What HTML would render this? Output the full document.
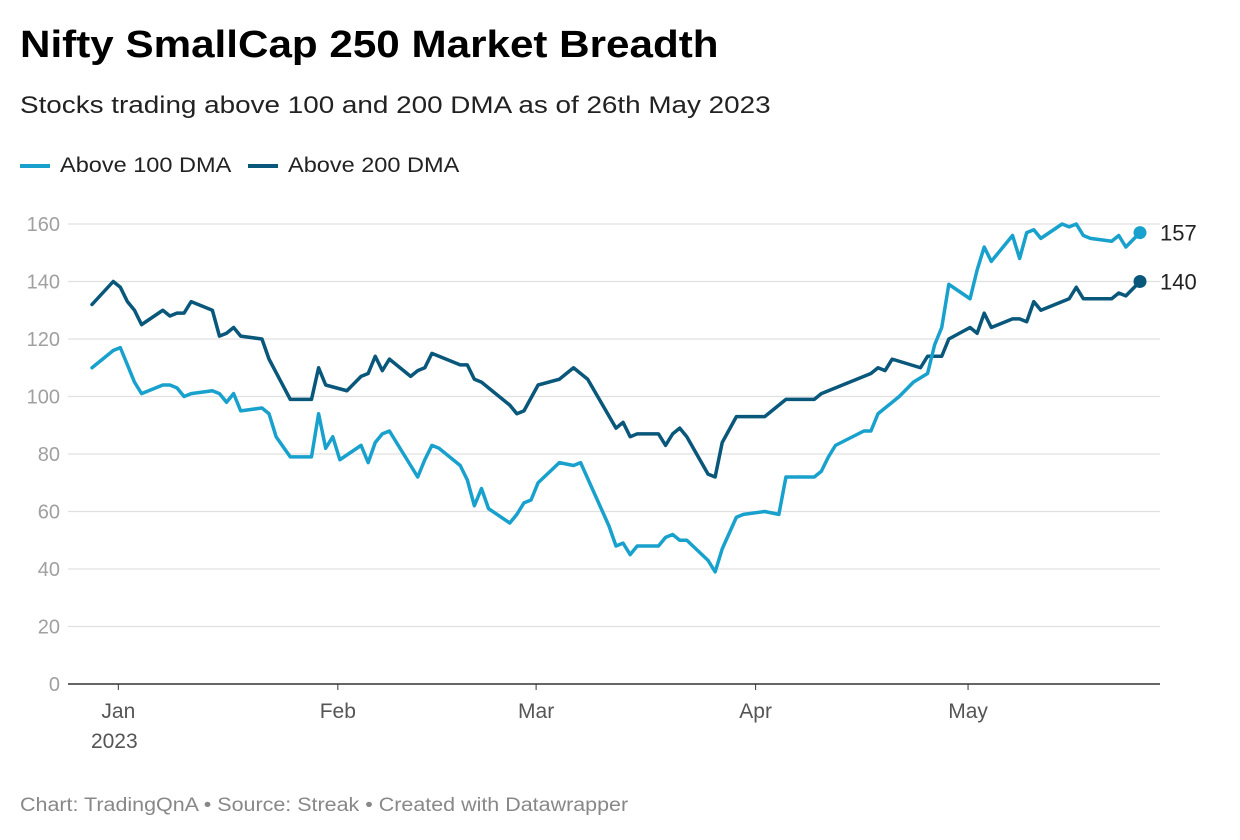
<!DOCTYPE html>
<html><head><meta charset="utf-8"><style>
body{margin:0;background:#fff;font-family:"Liberation Sans",sans-serif;width:1240px;height:840px;overflow:hidden;position:relative}
.t{position:absolute;white-space:nowrap;transform-origin:0 0}
</style></head><body>
<div class="t" style="left:20px;top:24px;font-size:38px;font-weight:bold;color:#000;transform:scaleX(1.11)">Nifty SmallCap 250 Market Breadth</div>
<div class="t" style="left:20px;top:92px;font-size:24px;color:#222;transform:scaleX(1.16)">Stocks trading above 100 and 200 DMA as of 26th May 2023</div>
<div class="t" style="left:20px;top:154px;font-size:21px;color:#222"><span style="display:inline-block;width:30px;height:4px;background:#18a1cd;vertical-align:middle;margin-right:10px"></span><span style="display:inline-block;transform:scaleX(1.12);transform-origin:0 0">Above 100 DMA</span></div>
<div class="t" style="left:248px;top:154px;font-size:21px;color:#222"><span style="display:inline-block;width:30px;height:4px;background:#09577a;vertical-align:middle;margin-right:10px"></span><span style="display:inline-block;transform:scaleX(1.12);transform-origin:0 0">Above 200 DMA</span></div>
<svg id="chart" width="1240" height="840" style="position:absolute;left:0;top:0"></svg>
<div class="t" style="left:20px;top:795px;font-size:19px;color:#888;transform:scaleX(1.13)">Chart: TradingQnA • Source: Streak • Created with Datawrapper</div>
<script>
const yTicks=[0,20,40,60,80,100,120,140,160];
const monthLabels=["Jan","Feb","Mar","Apr","May"];
const monthDays=[0,31,59,90,120];
const days200=[-4,-1,0,1,2,3,6,7,8,9,10,13,14,15,16,17,20,21,24,27,28,29,32,34,35,36,37,38,41,42,43,44,48,49,50,51,55,56,57,59,62,64,66,70,71,72,73,76,77,78,79,80,83,84,85,87,91,94,98,99,106,107,108,109,113,114,116,117,120,121,122,123,126,127,128,129,130,134,135,136,140,141,142,144];
const vals200=[132,140,138,133,130,125,130,128,129,129,133,130,121,122,124,121,120,113,99,99,110,104,102,107,108,114,109,113,107,109,110,115,111,111,106,105,97,94,95,104,106,110,106,89,91,86,87,87,83,87,89,86,73,72,84,93,93,99,99,101,108,110,109,113,110,114,114,120,124,122,129,124,127,127,126,133,130,134,138,134,134,136,135,140];
const days100=[-4,-1,0,2,3,6,7,8,9,10,13,14,15,16,17,20,21,22,24,27,28,29,30,31,34,35,36,37,38,42,43,44,45,48,49,50,51,52,55,56,57,58,59,62,64,65,69,70,71,72,73,76,77,78,79,80,83,84,85,87,88,91,93,94,98,99,100,101,105,106,107,110,112,114,115,116,117,120,121,122,123,126,127,128,129,130,133,134,135,136,137,140,141,142,144];
const vals100=[110,116,117,105,101,104,104,103,100,101,102,101,98,101,95,96,94,86,79,79,94,82,86,78,83,77,84,87,88,72,78,83,82,76,71,62,68,61,56,59,63,64,70,77,76,77,55,48,49,45,48,48,51,52,50,50,43,39,47,58,59,60,59,72,72,74,79,83,88,88,94,100,105,108,118,124,139,134,144,152,147,156,148,157,158,155,160,159,160,156,155,154,156,152,157];
const svg=document.getElementById('chart');const NS='http://www.w3.org/2000/svg';
const X0=-4,X1=144,PX0=92,PX1=1140,Y0=684,Y160=224;
function xs(d){return PX0+(d-X0)/(X1-X0)*(PX1-PX0);}
function ys(v){return Y0+(Y160-Y0)*v/160;}
function mk(t,a){const e=document.createElementNS(NS,t);for(const k in a)e.setAttribute(k,a[k]);svg.appendChild(e);return e;}
yTicks.forEach(v=>{
 const l=mk('line',{x1:68,x2:1160,y1:ys(v),y2:ys(v),stroke:v===0?'#333':'#e0e0e0','stroke-width':v===0?1.5:1.3});
 
 
 const t=mk('text',{x:60,y:ys(v)+7,'text-anchor':'end','font-size':20,fill:'#a0a0a0','font-family':'Liberation Sans'});
 t.textContent=v;
 
 
});
monthLabels.forEach((m,i)=>{
 const x=xs(monthDays[i])-2;
 const l=mk('line',{x1:x,x2:x,y1:684,y2:690,stroke:'#333','stroke-width':1});
 
 
 const t=mk('text',{x:x,y:718,'text-anchor':'middle','font-size':21,fill:'#555','font-family':'Liberation Sans'});
 t.textContent=m;
 
 
});
const yr=mk('text',{x:xs(0)-6,y:748,'text-anchor':'middle','font-size':21,fill:'#555','font-family':'Liberation Sans'});
yr.textContent='2023';


function series(days,vals,color,name){
 const p=mk('polyline',{points:days.map((d,i)=>xs(d)+','+ys(vals[i])).join(' '),fill:'none',stroke:color,'stroke-width':3.5,'stroke-linejoin':'round','stroke-linecap':'round'});
 
 
 const n=days.length-1;
 const c=mk('circle',{cx:xs(days[n]),cy:ys(vals[n]),r:6.5,fill:color});
 
 
 const t=mk('text',{x:xs(days[n])+20,y:ys(vals[n])+8,'font-size':22,fill:'#222','font-family':'Liberation Sans'});
 t.textContent=vals[n];
 
 
}
series(days200,vals200,'#09577a','above-200-dma');
series(days100,vals100,'#18a1cd','above-100-dma');
</script>
</body></html>
